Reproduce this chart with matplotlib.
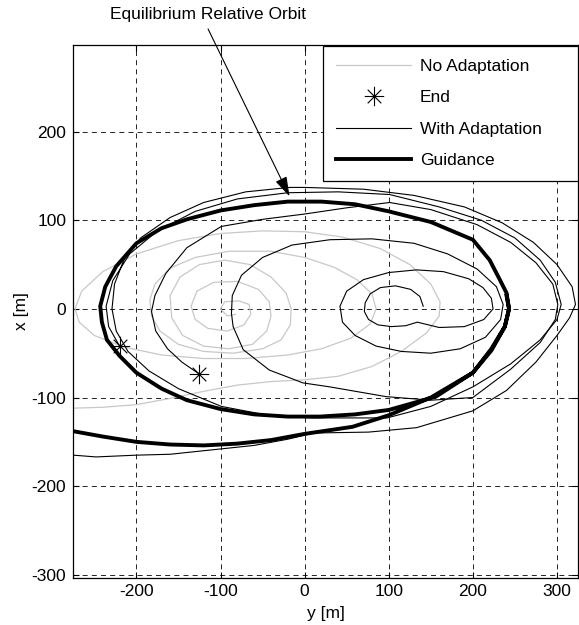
import numpy as np
import matplotlib
matplotlib.use("Agg")
import matplotlib.pyplot as plt
from matplotlib.path import Path

plt.rcParams['font.family'] = ['Liberation Sans', 'DejaVu Sans']
plt.rcParams['axes.unicode_minus'] = False

# (y, x) points, in metres
guidance = [
    (-275, -138), (-240, -144), (-200, -150), (-160, -153), (-120, -154), (-80, -152),
    (-40, -148), (0, -141), (57, -133), (100, -120), (150, -100), (200, -72),
    (222, -45), (238, -20), (243, 0), (240, 18), (232, 33), (220, 55), (200, 78),
    (150, 98), (100, 110), (60, 118), (20, 121), (-20, 121), (-60, 117), (-100, 111),
    (-140, 101), (-170, 91), (-200, 74), (-224, 48), (-237, 25), (-243, 3), (-241, -15),
    (-235, -35), (-220, -53), (-200, -72), (-170, -90), (-140, -103), (-100, -113),
    (-60, -119), (-20, -121.5), (18, -121.5), (60, -119), (100, -114), (156, -99),
    (200, -72), (222, -47), (238, -20), (243, 0), (240, 15),
]

no_adapt = [
    (-275, -112), (-240, -111), (-200, -108), (-160, -101), (-120, -93), (-80, -86),
    (-40, -82), (0, -80), (40, -76), (80, -65), (115, -48), (145, -27), (160, -8),
    (161, 8), (150, 28), (125, 50), (90, 68), (45, 81), (0, 87), (-50, 88), (-100, 85),
    (-150, 77), (-200, 62), (-240, 42), (-265, 20), (-273, 0), (-268, -15), (-250, -30),
    (-215, -43), (-170, -52), (-120, -56), (-70, -56), (-20, -52), (20, -45), (55, -33),
    (78, -17), (85, 0), (80, 17), (62, 33), (35, 47), (0, 58), (-40, 65), (-90, 65),
    (-130, 58), (-160, 46), (-178, 28), (-184, 10), (-182, -8), (-172, -25), (-150, -40),
    (-120, -48), (-85, -50), (-50, -45), (-28, -35), (-17, -18), (-16, 0), (-22, 18),
    (-40, 36), (-65, 50), (-95, 55), (-125, 50), (-148, 36), (-160, 15), (-158, -10),
    (-145, -30), (-120, -42), (-90, -45), (-62, -40), (-45, -25), (-40, -8), (-42, 8),
    (-55, 22), (-80, 31), (-108, 30), (-128, 20), (-135, 3), (-130, -12), (-115, -22),
    (-92, -25), (-72, -18), (-64, -6), (-66, 5), (-78, 9), (-95, 8), (-100, 0),
    (-92, -8), (-82, -6),
]

adapt_run1 = [
    (-275, -165), (-248, -167), (-200, -165), (-160, -164), (-110, -159), (-60, -154),
    (-20, -147), (11, -140), (76, -139), (133, -134), (200, -115), (240, -92),
    (275, -60), (300, -30), (315, -10), (322, 5), (318, 25), (300, 50), (272, 75),
    (235, 97), (190, 115), (130, 128), (70, 135), (0, 137), (-18, 137), (-70, 132),
    (-120, 120), (-160, 103), (-195, 80), (-215, 55), (-226, 28), (-229, 0),
    (-224, -25), (-210, -48), (-185, -70), (-150, -90), (-99, -110), (-38, -121),
    (11, -123), (98, -123), (150, -110), (200, -88), (245, -62), (280, -35),
    (300, -12), (305, 5), (298, 30), (280, 55), (250, 80), (210, 100), (160, 115),
    (101, 129), (40, 132), (-20, 131), (-80, 124), (-130, 110), (-175, 88),
    (-208, 62), (-228, 32), (-236, 3), (-233, -20), (-220, -42),
]

adapt_run2 = [
    (141, 3), (137, 14), (126, 22), (108, 26), (90, 24), (78, 17), (72, 7), (71, -3),
    (76, -12), (87, -18), (103, -20), (120, -19), (134, -15), (160, -21), (190, -20),
    (213, -12), (224, 0), (222, 12), (212, 24), (195, 34), (165, 42), (133, 44), (100, 41),
    (70, 33), (50, 20), (42, 3), (45, -15), (60, -30), (85, -42), (115, -48),
    (150, -50), (185, -45), (215, -32), (233, -12), (236, 5), (228, 25), (205, 45),
    (170, 62), (130, 74), (80, 79), (30, 78), (-15, 72), (-50, 58), (-75, 38),
    (-86, 15), (-87, -5), (-85, -20), (-73, -46), (-42, -69), (-2, -83.5), (30, -88),
    (97, -99), (150, -103), (200, -100), (245, -68), (280, -38), (298, -12), (301, 5),
    (295, 28), (275, 52), (245, 75), (205, 95), (150, 112), (101, 120), (50, 114),
    (0, 107), (-50, 101), (-99, 93), (-140, 69), (-165, 40), (-178, 15), (-182, -3),
    (-177, -25), (-163, -45), (-146, -60), (-126, -73),
]

end_y = [-220, -126]
end_x = [-42, -73]

x_ticks = [-200, -100, 0, 100, 200, 300]
y_ticks = [-300, -200, -100, 0, 100, 200]

# MATLAB style asterisk marker
star = Path([(-1, 0), (1, 0), (0, -1), (0, 1), (-0.7, -0.7), (0.7, 0.7), (-0.7, 0.7), (0.7, -0.7)],
            [Path.MOVETO, Path.LINETO] * 4)

fs = 12.5
fig = plt.figure(figsize=(5.79, 6.25), dpi=100)
ax = fig.add_axes([0.1266, 0.076, 0.8717, 0.8525])

g = np.array(guidance)
n = np.array(no_adapt)
a1 = np.array(adapt_run1)
a2 = np.array(adapt_run2)

ax.plot(n[:, 0], n[:, 1], color='#c8c8c8', lw=0.9, label='No Adaptation')
ax.plot(end_y, end_x, ls='none', marker=star, ms=14, mec='k', mfc='none', mew=0.8, label='End')
ax.plot(a1[:, 0], a1[:, 1], color='k', lw=0.8, label='With Adaptation')
ax.plot(a2[:, 0], a2[:, 1], color='k', lw=0.8)
ax.plot(g[:, 0], g[:, 1], color='k', lw=2.8, label='Guidance')

ax.set_xlim(-275, 325)
ax.set_ylim(-303, 298)
ax.set_xticks(x_ticks)
ax.set_yticks(y_ticks)
ax.tick_params(direction='in', length=4, labelsize=fs, top=True, right=True, width=0.8, pad=5)
ax.grid(True, color='k', linestyle=(0, (6, 5)), linewidth=0.6)
for s in ax.spines.values():
    s.set_linewidth(0.9)

ax.set_xlabel('y [m]', fontsize=fs, labelpad=5)
ax.set_ylabel('x [m]', fontsize=fs, labelpad=2)

ax.annotate('Equilibrium Relative Orbit', xy=(-18, 127), xycoords='data',
            xytext=(0.359, 0.976), textcoords='figure fraction', ha='center', va='center',
            fontsize=fs,
            arrowprops=dict(arrowstyle='-|>,head_length=0.8,head_width=0.25', color='k',
                            lw=0.8, mutation_scale=15, shrinkA=3, shrinkB=0,
                            relpos=(0.485, 0)))

leg = ax.legend(loc='upper left', bbox_to_anchor=(0.495, 0.746, 0.505, 0.2515), mode='expand',
                borderaxespad=0, fontsize=fs, handlelength=4.3, handletextpad=0.5,
                labelspacing=0.92, borderpad=0.76, fancybox=False, framealpha=1, edgecolor='k')
leg.get_frame().set_linewidth(0.9)

fig.savefig('out.png', dpi=100)
